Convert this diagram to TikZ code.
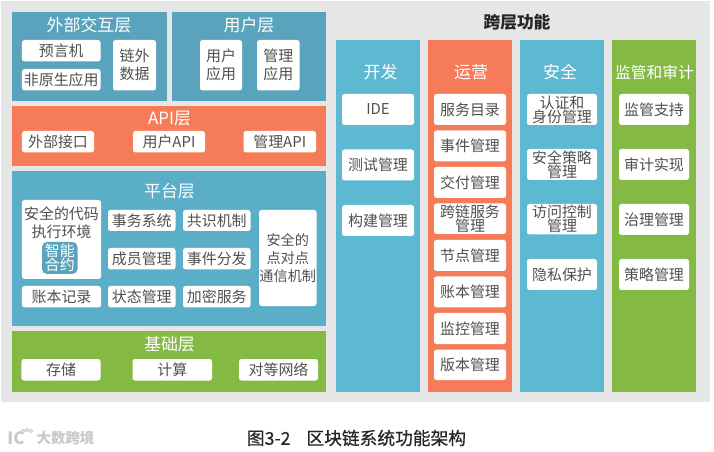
\documentclass[tikz,border=0pt]{standalone}
\usepackage{fontspec}
\setmainfont{Noto Sans CJK SC}
\setsansfont{Noto Sans CJK SC}
\newfontfamily\capfont[FakeBold=0.6]{Noto Sans CJK SC}
\usetikzlibrary{calc}
\definecolor{bgc}{HTML}{E6E6E6}
\definecolor{tealA}{HTML}{5AA3BC}
\definecolor{tealB}{HTML}{5BAEC7}
\definecolor{tealC}{HTML}{5DB8D1}
\definecolor{orangeC}{HTML}{F67C59}
\definecolor{greenC}{HTML}{84B944}
\definecolor{txtc}{HTML}{505050}
\definecolor{wmc}{HTML}{C9C9C9}
\tikzset{
  areabox/.style={inner sep=0pt,outer sep=0pt,draw=none},
  whitebox/.style={inner sep=0pt,outer sep=0pt,fill=white,rounded corners=2.5bp,text=txtc,align=center,font=\fontsize{15}{18}\selectfont},
  tightbox/.style={whitebox,font=\fontsize{15}{14}\selectfont},
  smartbox/.style={inner sep=0pt,outer sep=0pt,fill=tealA,rounded corners=5bp,text=white,align=center,font=\fontsize{15}{14.5}\selectfont},
  layertitle/.style={inner sep=0pt,text=white,font=\fontsize{17}{18}\selectfont},
  headtitle/.style={inner sep=0pt,text=black!85,font=\fontsize{16.8}{18}\selectfont\bfseries},
  captiontext/.style={inner sep=0pt,text=black!85,font=\capfont\fontsize{17.8}{18}\selectfont},
  marktext/.style={inner sep=0pt,text=wmc,font=\fontsize{14.5}{18}\selectfont\bfseries}
}
\newcommand{\upt}[1]{\raisebox{1bp}{#1}}
% name, style, x1, y1, x2, y2, text
\newcommand{\bx}[7]{%
  \pgfmathsetmacro{\bxw}{#5-#3}\pgfmathsetmacro{\bxh}{#6-#4}%
  \pgfmathsetmacro{\bxx}{(#3+#5)/2}\pgfmathsetmacro{\bxy}{(#4+#6)/2}%
  \node[#2,minimum width=\bxw bp,minimum height=\bxh bp] (#1) at (\bxx,\bxy) {#7};%
}
\begin{document}
\begin{tikzpicture}[x=1bp,y=-1bp]
\useasboundingbox (0,0) rectangle (714,452);
\fill[white] (0,0) rectangle (714,452);
\bx{bg}{areabox,fill=bgc}{1.5}{1}{710}{402}{}
% left panels
\bx{ext}{areabox,fill=tealA}{12.5}{12}{166.5}{101}{}
\bx{usr}{areabox,fill=tealA}{172}{12}{326}{101}{}
\bx{api}{areabox,fill=orangeC}{12}{106}{326}{166}{}
\bx{plat}{areabox,fill=tealB}{12}{171}{326}{326}{}
\bx{base}{areabox,fill=greenC}{12}{331}{326}{392}{}
\node[layertitle] (text) at (89,25) {外部交互层};
\node[layertitle] (tusr) at (249,25) {用户层};
\node[layertitle] (tapi) at (169.5,119) {API层};
\node[layertitle] (tplat) at (169.5,191) {平台层};
\node[layertitle] (tbase) at (169.5,344) {基础层};
% external
\bx{a1}{whitebox}{22}{40}{100.5}{61.5}{预言机}
\bx{a2}{whitebox}{22}{69}{100.5}{90.5}{非原生应用}
\bx{a3}{whitebox}{113}{40}{156}{90.5}{链外\\数据}
\bx{a4}{whitebox}{200}{40}{242}{90.5}{用户\\应用}
\bx{a5}{whitebox}{257}{40}{299.5}{90.5}{管理\\应用}
% api
\bx{b1}{whitebox}{22}{131}{94}{152.5}{外部接口}
\bx{b2}{whitebox}{133}{131}{205}{152.5}{用户API}
\bx{b3}{whitebox}{243.5}{131}{316}{152.5}{管理API}
% platform
\bx{c0}{whitebox}{22}{200}{101}{279}{}
\node[inner sep=0pt,text=txtc,align=center,font=\fontsize{15}{18}\selectfont] (c0t) at (61.5,223) {安全的代码\\执行环境};
\bx{c00}{smartbox}{42}{242}{77.5}{274}{智能\\合约}
\bx{c1}{whitebox}{108}{210}{175.5}{231}{事务系统}
\bx{c2}{whitebox}{183}{210}{250.5}{231}{共识机制}
\bx{c3}{whitebox}{108}{248}{175.5}{269.5}{成员管理}
\bx{c4}{whitebox}{183}{248}{250.5}{269.5}{事件分发}
\bx{c5}{whitebox}{22}{286}{101}{307.5}{账本记录}
\bx{c6}{whitebox}{108}{286}{175.5}{307.5}{状态管理}
\bx{c7}{whitebox}{183}{286}{250.5}{307.5}{加密服务}
\bx{c8}{whitebox,font=\fontsize{14.2}{18}\selectfont}{259}{210}{316.5}{306}{安全的\\点对点\\通信机制}
% base
\bx{d1}{whitebox}{21.5}{359}{100.5}{380.5}{存储}
\bx{d2}{whitebox}{132.5}{359}{212}{380.5}{计算}
\bx{d3}{whitebox}{239}{359}{318}{380.5}{对等网络}
% cross-layer
\node[headtitle] (cross) at (517,22) {跨层功能};
\bx{colA}{areabox,fill=tealC}{336}{40}{420}{392}{}
\bx{colB}{areabox,fill=orangeC}{428}{40}{512}{392}{}
\bx{colC}{areabox,fill=tealC}{520}{40}{604}{392}{}
\bx{colD}{areabox,fill=greenC}{612}{40}{696}{392}{}
\node[layertitle] (tA) at (380.5,72) {开发};
\node[layertitle] (tB) at (471,72) {运营};
\node[layertitle] (tC) at (560,72) {安全};
\node[layertitle,font=\fontsize{15.8}{18}\selectfont] (tD) at (654.5,72) {监管和审计};
\bx{e1}{whitebox}{342}{94}{414}{125}{\upt{IDE}}
\bx{e2}{whitebox}{342}{149.5}{414}{180.5}{\upt{测试管理}}
\bx{e3}{whitebox}{342}{205}{414}{236}{\upt{构建管理}}
\bx{f1}{whitebox}{434}{94}{506}{125}{\upt{服务目录}}
\bx{f2}{whitebox}{434}{130.5}{506}{161.5}{\upt{事件管理}}
\bx{f3}{whitebox}{434}{167}{506}{198}{\upt{交付管理}}
\bx{f4}{tightbox}{434}{203.5}{506}{234}{跨链服务\\管理}
\bx{f5}{whitebox}{434}{240}{506}{271}{\upt{节点管理}}
\bx{f6}{whitebox}{434}{276.5}{506}{307.5}{\upt{账本管理}}
\bx{f7}{whitebox}{434}{313}{506}{344}{\upt{监控管理}}
\bx{f8}{whitebox}{434}{349.5}{506}{380}{\upt{版本管理}}
\bx{g1}{tightbox}{527}{94}{597}{125}{认证和\\身份管理}
\bx{g2}{tightbox}{527}{149}{597}{180}{安全策略\\管理}
\bx{g3}{tightbox}{527}{204}{597}{234.5}{访问控制\\管理}
\bx{g4}{whitebox}{527}{259}{597}{290}{\upt{隐私保护}}
\bx{h1}{whitebox}{619}{94}{689}{125}{\upt{监管支持}}
\bx{h2}{whitebox}{619}{149}{689}{180}{\upt{审计实现}}
\bx{h3}{whitebox}{619}{204}{689}{235}{\upt{治理管理}}
\bx{h4}{whitebox}{619}{259}{689}{290}{\upt{策略管理}}
% caption and mark
\node[captiontext] (cap) at (356.5,438) {图3-2\hspace{0.9em}区块链系统功能架构};
\node[marktext] (mark) at (65.5,438) {大数跨境};
\node[marktext,font=\fontsize{17}{18}\selectfont\bfseries] (logo) at (16,438) {IC};
\foreach \cx/\cy/\cn in {23/431/m1,27/430/m2,31/431/m3}{
  \node[circle,draw=wmc,line width=0.8pt,inner sep=0pt,minimum size=3.5bp] (\cn) at (\cx,\cy) {};
}
\end{tikzpicture}
\end{document}
